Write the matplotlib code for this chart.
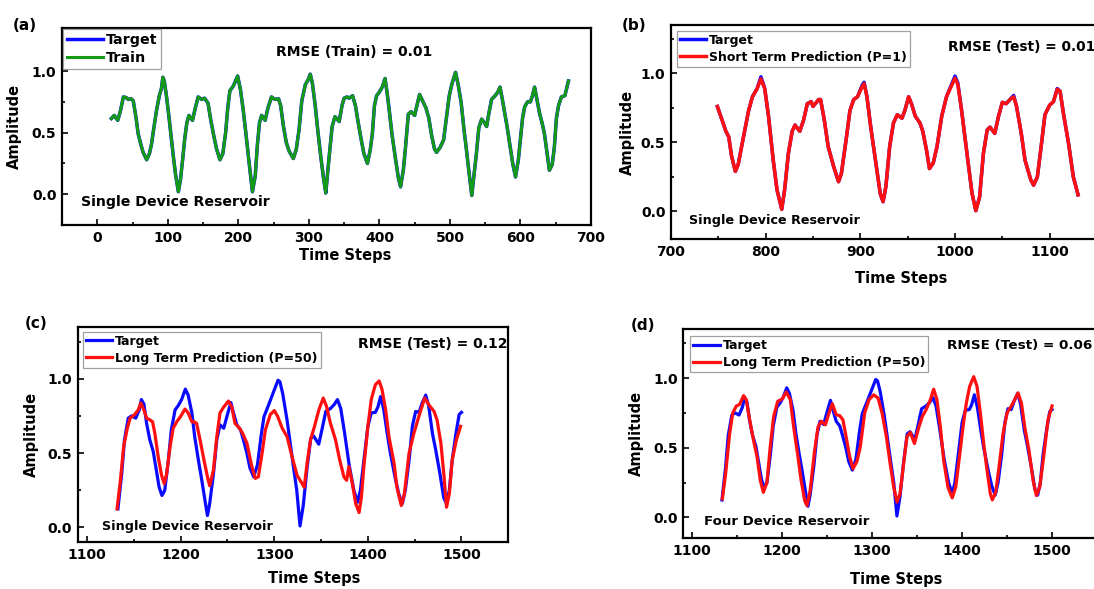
import matplotlib
matplotlib.use("Agg")
import matplotlib.pyplot as plt
from matplotlib.ticker import MultipleLocator

plt.rcParams['font.family'] = ['DejaVu Sans']
plt.rcParams['font.weight'] = 'bold'

# ---------------- data ----------------
# (a) training segment
t_a = [20, 24, 29, 33, 37, 41, 44, 48, 51, 55, 58, 62, 65, 70, 74, 77, 80, 84, 88, 91,
       93, 95, 98, 101, 105, 108, 111, 115, 118, 121, 124, 127, 130, 135, 139, 143, 148, 152, 157, 161,
       165, 169, 174, 178, 182, 185, 188, 193, 199, 203, 207, 211, 215, 220, 224, 227, 230, 233, 238, 242,
       247, 252, 257, 260, 264, 268, 272, 278, 282, 286, 290, 295, 299, 302, 305, 309, 313, 317, 321, 324,
       328, 333, 337, 343, 347, 350, 354, 357, 362, 366, 370, 374, 378, 383, 387, 390, 393, 396, 400, 404,
       408, 411, 414, 418, 423, 427, 430, 434, 437, 441, 445, 450, 454, 457, 462, 466, 470, 474, 478, 481,
       486, 491, 495, 499, 503, 508, 512, 516, 520, 523, 527, 531, 534, 537, 541, 545, 549, 552, 555, 559,
       564, 568, 571, 574, 577, 581, 585, 589, 593, 597, 600, 603, 606, 610, 614, 617, 620, 624, 627, 631,
       634, 638, 641, 645, 648, 651, 654, 658, 663, 668]
target_a = [0.615, 0.64, 0.60, 0.68, 0.79, 0.785, 0.77, 0.775, 0.76, 0.62, 0.49, 0.40, 0.34, 0.28, 0.33, 0.41, 0.53, 0.68, 0.80, 0.86,
            0.95, 0.92, 0.80, 0.66, 0.45, 0.30, 0.16, 0.02, 0.12, 0.28, 0.45, 0.58, 0.64, 0.60, 0.70, 0.79, 0.77, 0.78, 0.74, 0.60,
            0.48, 0.37, 0.28, 0.33, 0.50, 0.70, 0.84, 0.88, 0.96, 0.85, 0.68, 0.48, 0.27, 0.02, 0.15, 0.40, 0.58, 0.64, 0.60, 0.70,
            0.79, 0.77, 0.775, 0.72, 0.55, 0.42, 0.35, 0.29, 0.36, 0.52, 0.76, 0.89, 0.93, 0.975, 0.90, 0.72, 0.50, 0.30, 0.12, 0.01,
            0.26, 0.55, 0.63, 0.59, 0.72, 0.78, 0.79, 0.78, 0.80, 0.72, 0.58, 0.45, 0.33, 0.25, 0.36, 0.49, 0.72, 0.80, 0.83, 0.87,
            0.94, 0.82, 0.68, 0.48, 0.28, 0.13, 0.06, 0.20, 0.38, 0.65, 0.67, 0.64, 0.74, 0.81, 0.75, 0.70, 0.62, 0.48, 0.37, 0.34,
            0.38, 0.44, 0.62, 0.80, 0.90, 0.99, 0.88, 0.74, 0.52, 0.38, 0.18, -0.01, 0.15, 0.30, 0.54, 0.61, 0.58, 0.55, 0.65, 0.77,
            0.80, 0.83, 0.87, 0.78, 0.68, 0.55, 0.40, 0.25, 0.14, 0.28, 0.45, 0.62, 0.71, 0.75, 0.75, 0.80, 0.87, 0.75, 0.66, 0.57,
            0.49, 0.32, 0.195, 0.24, 0.38, 0.62, 0.72, 0.79, 0.80, 0.92]
train_a = list(target_a)

# (b) short-term prediction segment
t_b = [749, 754, 758, 761, 764, 768, 771, 776, 782, 786, 791, 795, 799, 803, 808, 812, 817, 820, 824, 828,
       831, 836, 840, 844, 848, 850, 856, 858, 862, 866, 872, 877, 880, 885, 889, 893, 897, 902, 904, 907,
       911, 916, 921, 924, 927, 931, 935, 939, 944, 947, 951, 954, 958, 963, 966, 970, 973, 977, 981, 986,
       991, 997, 1000, 1003, 1007, 1013, 1018, 1022, 1026, 1030, 1034, 1037, 1042, 1046, 1050, 1054, 1058, 1062, 1065, 1070,
       1074, 1080, 1083, 1087, 1091, 1095, 1100, 1104, 1108, 1111, 1115, 1120, 1125, 1130]
target_b = [0.76, 0.66, 0.58, 0.54, 0.40, 0.29, 0.34, 0.52, 0.73, 0.83, 0.89, 0.975, 0.89, 0.69, 0.37, 0.155, 0.015, 0.155, 0.42, 0.58,
            0.625, 0.58, 0.66, 0.78, 0.795, 0.76, 0.81, 0.81, 0.66, 0.47, 0.32, 0.215, 0.275, 0.52, 0.73, 0.81, 0.83, 0.915, 0.935, 0.83,
            0.61, 0.37, 0.13, 0.07, 0.18, 0.47, 0.64, 0.70, 0.675, 0.73, 0.83, 0.78, 0.69, 0.64, 0.58, 0.44, 0.31, 0.35, 0.47, 0.69,
            0.83, 0.93, 0.98, 0.93, 0.73, 0.40, 0.13, 0.005, 0.105, 0.42, 0.59, 0.61, 0.565, 0.69, 0.79, 0.78, 0.81, 0.84, 0.76, 0.565,
            0.37, 0.23, 0.19, 0.25, 0.47, 0.70, 0.77, 0.795, 0.89, 0.87, 0.69, 0.49, 0.25, 0.12]
pred_b = [0.76, 0.66, 0.58, 0.54, 0.40, 0.29, 0.34, 0.52, 0.73, 0.83, 0.89, 0.96, 0.89, 0.69, 0.37, 0.155, 0.015, 0.155, 0.42, 0.58,
          0.625, 0.58, 0.66, 0.78, 0.795, 0.76, 0.81, 0.81, 0.66, 0.47, 0.32, 0.215, 0.275, 0.52, 0.73, 0.81, 0.83, 0.905, 0.925, 0.83,
          0.61, 0.37, 0.13, 0.07, 0.18, 0.47, 0.64, 0.70, 0.675, 0.73, 0.83, 0.78, 0.69, 0.64, 0.58, 0.44, 0.31, 0.35, 0.47, 0.69,
          0.83, 0.92, 0.965, 0.92, 0.73, 0.40, 0.13, 0.005, 0.105, 0.42, 0.59, 0.61, 0.565, 0.69, 0.79, 0.78, 0.81, 0.83, 0.76, 0.565,
          0.37, 0.23, 0.19, 0.25, 0.47, 0.70, 0.77, 0.795, 0.885, 0.87, 0.69, 0.49, 0.25, 0.12]

# (c), (d) long-term prediction segment (shared target)
t_cd = [1133, 1137, 1140, 1144, 1147.5, 1152, 1155.7, 1158, 1160.7, 1163.6, 1167, 1170.7, 1174, 1177, 1180, 1183, 1186.8, 1190, 1194, 1197.5,
        1201, 1205, 1208, 1212, 1215, 1219, 1222.5, 1226, 1228.6, 1231, 1235, 1238.6, 1242, 1246, 1250, 1253.6, 1256, 1260, 1264, 1267,
        1270.7, 1274, 1278, 1282, 1286, 1289, 1294, 1299.4, 1304, 1306, 1309, 1313.7, 1319, 1324, 1327.5, 1331, 1335, 1339, 1342, 1347.5,
        1351, 1355, 1360, 1364, 1367.5, 1371, 1375, 1380, 1385, 1389, 1392, 1395.7, 1400, 1403.6, 1408, 1410.7, 1413.6, 1417, 1420.7, 1424,
        1429.6, 1433, 1436.8, 1440, 1444, 1447.5, 1451, 1454.6, 1458, 1461.8, 1465, 1469, 1472.5, 1477, 1481, 1484, 1487, 1490, 1494, 1497.5,
        1500]
target_cd = [0.125, 0.36, 0.59, 0.735, 0.75, 0.735, 0.79, 0.86, 0.83, 0.70, 0.59, 0.51, 0.385, 0.27, 0.215, 0.25, 0.45, 0.656, 0.79, 0.82,
             0.86, 0.93, 0.89, 0.77, 0.61, 0.45, 0.32, 0.18, 0.08, 0.16, 0.36, 0.59, 0.69, 0.667, 0.76, 0.84, 0.78, 0.69, 0.656, 0.59,
             0.50, 0.40, 0.34, 0.42, 0.62, 0.745, 0.825, 0.915, 0.99, 0.98, 0.90, 0.72, 0.475, 0.25, 0.01, 0.15, 0.40, 0.60, 0.615, 0.56,
             0.66, 0.78, 0.80, 0.826, 0.86, 0.80, 0.64, 0.42, 0.25, 0.17, 0.25, 0.45, 0.68, 0.77, 0.774, 0.81, 0.88, 0.79, 0.63, 0.50,
             0.32, 0.226, 0.16, 0.25, 0.45, 0.68, 0.78, 0.774, 0.837, 0.89, 0.815, 0.63, 0.52, 0.36, 0.20, 0.16, 0.25, 0.45, 0.63, 0.76,
             0.774]

t_c = [1132, 1135.7, 1139, 1143, 1146, 1151, 1154.6, 1157.5, 1160.7, 1163.6, 1167, 1170, 1172.5, 1176, 1179.6, 1182.5, 1185, 1188.6, 1192, 1195.7,
       1200, 1204.6, 1208, 1212, 1214.6, 1217, 1220.7, 1225, 1228.6, 1231, 1235, 1238.6, 1242, 1246, 1251, 1254.6, 1258, 1263, 1266.4, 1270.8,
       1276, 1279.7, 1283, 1287, 1290.5, 1295.8, 1300, 1303.6, 1308.4, 1313.7, 1319, 1324.4, 1329.7, 1332, 1335, 1338.7, 1343, 1347.6, 1352.3, 1355.8,
       1360, 1365.4, 1370, 1374.4, 1377.3, 1379.7, 1383.4, 1387, 1390.6, 1393, 1395.7, 1400, 1403.6, 1408, 1412, 1415, 1419, 1422.5, 1428, 1431,
       1435.7, 1439, 1444, 1449, 1454.6, 1460.7, 1465, 1470.7, 1474, 1478, 1481.4, 1484, 1487, 1490, 1494.6, 1499]
pred_c = [0.125, 0.32, 0.54, 0.667, 0.735, 0.76, 0.79, 0.837, 0.79, 0.735, 0.724, 0.71, 0.63, 0.475, 0.35, 0.294, 0.36, 0.54, 0.667, 0.71,
          0.747, 0.796, 0.77, 0.71, 0.71, 0.70, 0.59, 0.45, 0.34, 0.28, 0.385, 0.61, 0.77, 0.81, 0.85, 0.81, 0.70, 0.667, 0.63, 0.566,
          0.41, 0.33, 0.34, 0.50, 0.656, 0.76, 0.786, 0.747, 0.668, 0.61, 0.475, 0.35, 0.295, 0.27, 0.43, 0.59, 0.68, 0.79, 0.87, 0.815,
          0.70, 0.59, 0.45, 0.34, 0.317, 0.41, 0.295, 0.16, 0.10, 0.20, 0.41, 0.68, 0.86, 0.96, 0.985, 0.93, 0.79, 0.61, 0.43, 0.27,
          0.147, 0.226, 0.50, 0.63, 0.75, 0.87, 0.826, 0.78, 0.72, 0.566, 0.34, 0.136, 0.226, 0.45, 0.59, 0.68]

t_d = [1133.4, 1137, 1141.5, 1145, 1149, 1152.6, 1157, 1160, 1163.8, 1168, 1172, 1175.6, 1179, 1183, 1186.7, 1190.5, 1195, 1200, 1204.5, 1209,
       1212.7, 1217.5, 1221, 1225, 1227.5, 1231, 1236, 1239.8, 1243.5, 1248, 1252, 1255.7, 1260, 1264, 1267.5, 1271, 1275, 1278.7, 1283, 1286.8,
       1291.7, 1296.5, 1301.7, 1306.5, 1311, 1315.8, 1320, 1324, 1327.6, 1331, 1335, 1338.7, 1342.4, 1347, 1352, 1355.8, 1360, 1364.7, 1368.4, 1372,
       1375.8, 1379.5, 1384.3, 1389, 1392.9, 1396.6, 1401, 1404.7, 1408.4, 1412.9, 1416.6, 1420.3, 1424, 1427.7, 1431.4, 1433.6, 1437.4, 1441, 1445.5, 1450,
       1454.8, 1458.5, 1462.2, 1466, 1469.6, 1474.4, 1478.9, 1482.6, 1486.3, 1490.7, 1495.5, 1500]
pred_d = [0.133, 0.31, 0.60, 0.75, 0.80, 0.81, 0.874, 0.845, 0.70, 0.556, 0.435, 0.266, 0.18, 0.25, 0.51, 0.725, 0.833, 0.85, 0.90, 0.845,
          0.65, 0.435, 0.266, 0.12, 0.085, 0.19, 0.48, 0.65, 0.69, 0.664, 0.75, 0.816, 0.737, 0.73, 0.70, 0.58, 0.435, 0.35, 0.40, 0.507,
          0.75, 0.845, 0.88, 0.857, 0.75, 0.58, 0.386, 0.217, 0.11, 0.17, 0.386, 0.58, 0.61, 0.53, 0.65, 0.725, 0.773, 0.845, 0.92, 0.845,
          0.65, 0.41, 0.217, 0.14, 0.217, 0.41, 0.65, 0.82, 0.94, 1.01, 0.94, 0.75, 0.53, 0.34, 0.17, 0.126, 0.18, 0.36, 0.60, 0.75,
          0.80, 0.845, 0.894, 0.82, 0.65, 0.48, 0.266, 0.157, 0.217, 0.435, 0.70, 0.80]

# ---------------- styling ----------------
BLUE = '#0a0aff'
RED = '#ff1010'
GREEN = '#159a15'
W, H = 1094, 589

fig = plt.figure(figsize=(W / 100, H / 100), dpi=100)


def make_ax(l, t, r, b):
    return fig.add_axes([l / W, 1 - b / H, (r - l) / W, (b - t) / H])


def style(ax, xlim, ylim, xmaj, xmin):
    ax.set_xlim(*xlim)
    ax.set_ylim(*ylim)
    ax.xaxis.set_major_locator(MultipleLocator(xmaj))
    ax.xaxis.set_minor_locator(MultipleLocator(xmin))
    ax.yaxis.set_major_locator(MultipleLocator(0.5))
    ax.yaxis.set_minor_locator(MultipleLocator(0.25))
    ax.tick_params(which='both', direction='in', top=False, right=False, width=1.2)
    ax.tick_params(which='major', length=4.5, labelsize=10, pad=4)
    ax.tick_params(which='minor', length=2.5)
    for s in ax.spines.values():
        s.set_linewidth(1.6)
    ax.set_yticks([0.0, 0.5, 1.0])
    ax.set_yticklabels(['0.0', '0.5', '1.0'])
    for lab in ax.get_xticklabels() + ax.get_yticklabels():
        lab.set_fontweight('bold')


def legend(ax, fs, pad, hl):
    leg = ax.legend(loc='upper left', fontsize=fs, frameon=True, fancybox=False,
                    edgecolor='#a0a0a0', framealpha=1, borderaxespad=pad,
                    handlelength=hl, handletextpad=0.25, labelspacing=0.3, borderpad=0.25)
    leg.get_frame().set_linewidth(0.9)
    for t in leg.get_texts():
        t.set_fontweight('bold')


# (a)
axa = make_ax(62, 28, 591, 225)
axa.plot(t_a, target_a, color=BLUE, lw=2.5, label='Target')
axa.plot(t_a, train_a, color=GREEN, lw=2.2, label='Train')
style(axa, (-50, 700), (-0.25, 1.35), 100, 50)
legend(axa, 10.3, 0.1, 2.5)
axa.text(0.405, 0.878, 'RMSE (Train) = 0.01', transform=axa.transAxes, fontsize=10, fontweight='bold', va='center')
axa.text(0.036, 0.117, 'Single Device Reservoir', transform=axa.transAxes, fontsize=10.2, fontweight='bold', va='center')
axa.set_xlabel('Time Steps', fontsize=10.5, fontweight='bold')
axa.set_ylabel('Amplitude', fontsize=10.5, fontweight='bold')
axa.xaxis.set_label_coords(0.535, -0.115)
axa.yaxis.set_label_coords(-0.076, 0.5)

# (b)
axb = make_ax(671, 25, 1097, 239)
axb.plot(t_b, target_b, color=BLUE, lw=2.5, label='Target')
axb.plot(t_b, pred_b, color=RED, lw=2.5, label='Short Term Prediction (P=1)')
style(axb, (700, 1150), (-0.2, 1.35), 100, 50)
legend(axb, 9.0, 0.45, 2.1)
axb.text(0.650, 0.899, 'RMSE (Test) = 0.01', transform=axb.transAxes, fontsize=9.9, fontweight='bold', va='center')
axb.text(0.043, 0.086, 'Single Device Reservoir', transform=axb.transAxes, fontsize=9.2, fontweight='bold', va='center')
axb.set_xlabel('Time Steps', fontsize=10.5, fontweight='bold')
axb.set_ylabel('Amplitude', fontsize=10.5, fontweight='bold')
axb.xaxis.set_label_coords(0.54, -0.15)
axb.yaxis.set_label_coords(-0.085, 0.5)

# (c)
axc = make_ax(77.7, 326.7, 508.3, 542.3)
axc.plot(t_cd, target_cd, color=BLUE, lw=2.3, label='Target')
axc.plot(t_c, pred_c, color=RED, lw=2.3, label='Long Term Prediction (P=50)')
style(axc, (1090, 1550), (-0.1, 1.35), 100, 50)
legend(axc, 9.0, 0.4, 2.1)
axc.text(0.650, 0.918, 'RMSE (Test) = 0.12', transform=axc.transAxes, fontsize=10, fontweight='bold', va='center')
axc.text(0.056, 0.072, 'Single Device Reservoir', transform=axc.transAxes, fontsize=9.2, fontweight='bold', va='center')
axc.set_xlabel('Time Steps', fontsize=10.5, fontweight='bold')
axc.set_ylabel('Amplitude', fontsize=10.5, fontweight='bold')
axc.xaxis.set_label_coords(0.55, -0.135)
axc.yaxis.set_label_coords(-0.09, 0.5)

# (d)
axd = make_ax(683.3, 329.3, 1097, 538.3)
axd.plot(t_cd, target_cd, color=BLUE, lw=2.3, label='Target')
axd.plot(t_d, pred_d, color=RED, lw=2.3, label='Long Term Prediction (P=50)')
style(axd, (1090, 1550), (-0.15, 1.35), 100, 50)
legend(axd, 9.0, 0.55, 2.1)
axd.text(0.637, 0.921, 'RMSE (Test) = 0.06', transform=axd.transAxes, fontsize=9.7, fontweight='bold', va='center')
axd.text(0.050, 0.079, 'Four Device Reservoir', transform=axd.transAxes, fontsize=9.5, fontweight='bold', va='center')
axd.set_xlabel('Time Steps', fontsize=10.5, fontweight='bold')
axd.set_ylabel('Amplitude', fontsize=10.5, fontweight='bold')
axd.xaxis.set_label_coords(0.515, -0.16)
axd.yaxis.set_label_coords(-0.095, 0.5)

# panel labels
for txt, x, y in [('(a)', 13, 25), ('(b)', 622, 25), ('(c)', 25, 323), ('(d)', 631, 326)]:
    fig.text(x / W, 1 - y / H, txt, fontsize=11, fontweight='bold', ha='left', va='center')

fig.savefig('out.png', dpi=100)
